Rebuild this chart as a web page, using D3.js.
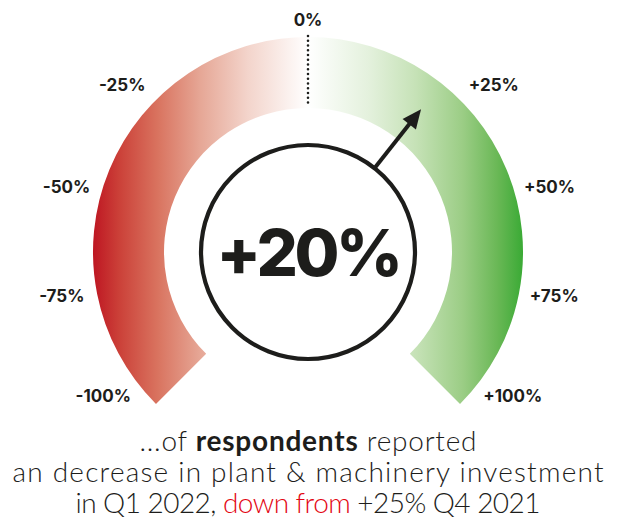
<!DOCTYPE html>
<html>
<head>
<meta charset="utf-8">
<script src="https://cdn.jsdelivr.net/npm/d3@7"></script>
<style>
  html, body { margin: 0; padding: 0; background: #fff; }
  svg { display: block; font-family: Inter, "Open Sans", sans-serif; }
</style>
</head>
<body>
<svg id="gauge" width="617" height="522"></svg>
<script>
// gauge ticks
var tickValues = [-100, -75, -50, -25, 0, 25, 50, 75, 100];
var tickLabels = ["-100%", "-75%", "-50%", "-25%", "0%", "+25%", "+50%", "+75%", "+100%"];

// current reading
var currentValue = 20;
var currentLabel = "+20%";

// caption, one array per line: [text, style]
var captionLine1 = [["...of ", "light"], ["respondents", "bold"], [" reported", "light"]];
var captionLine2 = [["an decrease in plant & machinery investment", "light"]];
var captionLine3 = [["in Q1 2022, ", "light"], ["down from", "red"], [" +25% Q4 2021", "light"]];

var svg = d3.select("#gauge");

var cx = 308, cy = 252;
var outerR = 215, innerR = 144, ringR = 107;
var span = 135; // degrees each side of 0

// value -> angle (deg, clockwise from top). the gauge is not evenly spaced
var angle = d3.scaleLinear()
    .domain(tickValues)
    .range([-125, -100, -75, -48, 0, 48, 75, 100, 125]);

var rad = function (d) { return d * Math.PI / 180; };

var defs = svg.append("defs");

var redGrad = defs.append("linearGradient")
    .attr("id", "redGrad")
    .attr("x1", "0").attr("x2", "1").attr("y1", "0").attr("y2", "0");
[[0, "#be1622"], [0.12, "#cb4038"], [0.3, "#d9735f"], [0.5, "#e6a796"], [0.72, "#f3d4cb"], [1, "#ffffff"]]
    .forEach(function (s) {
        redGrad.append("stop").attr("offset", s[0]).attr("stop-color", s[1]);
    });

var greenGrad = defs.append("linearGradient")
    .attr("id", "greenGrad")
    .attr("x1", "0").attr("x2", "1").attr("y1", "0").attr("y2", "0");
[[0, "#ffffff"], [0.28, "#e4f1dd"], [0.5, "#c6e2b7"], [0.72, "#9bcd85"], [0.88, "#6ab856"], [1, "#3aaa35"]]
    .forEach(function (s) {
        greenGrad.append("stop").attr("offset", s[0]).attr("stop-color", s[1]);
    });

var g = svg.append("g").attr("transform", "translate(" + cx + "," + cy + ")");

var arc = d3.arc().innerRadius(innerR).outerRadius(outerR);

g.append("path")
    .attr("d", arc({ startAngle: rad(-span), endAngle: 0 }))
    .attr("fill", "url(#redGrad)");

g.append("path")
    .attr("d", arc({ startAngle: 0, endAngle: rad(span) }))
    .attr("fill", "url(#greenGrad)");

// dotted zero line
g.append("line")
    .attr("x1", 0).attr("x2", 0)
    .attr("y1", -outerR - 1).attr("y2", -innerR - 1)
    .attr("stroke", "#1d1d1b")
    .attr("stroke-width", 2.6)
    .attr("stroke-linecap", "round")
    .attr("stroke-dasharray", "0 4.75");

// tick labels
g.selectAll("text.tick")
    .data(tickValues)
    .enter()
    .append("text")
    .attr("class", "tick")
    .attr("x", function (d) {
        var r = d === 0 ? 232 : 250;
        return r * Math.sin(rad(angle(d)));
    })
    .attr("y", function (d) {
        var r = d === 0 ? 232 : 250;
        return -r * Math.cos(rad(angle(d)));
    })
    .attr("dy", "0.36em")
    .attr("text-anchor", "middle")
    .attr("font-size", 17)
    .attr("font-weight", 700)
    .attr("fill", "#1d1d1b")
    .text(function (d, i) { return tickLabels[i]; });

// ring
g.append("circle")
    .attr("r", ringR)
    .attr("fill", "#fff")
    .attr("stroke", "#1d1d1b")
    .attr("stroke-width", 4.2);

// arrow
var arrow = g.append("g").attr("transform", "rotate(" + angle(currentValue) + ")");
arrow.append("line")
    .attr("x1", 0).attr("x2", 0)
    .attr("y1", -ringR).attr("y2", -168)
    .attr("stroke", "#1d1d1b")
    .attr("stroke-width", 4);
arrow.append("path")
    .attr("d", "M0," + (-182) + "L8.5," + (-163) + "L-8.5," + (-163) + "Z")
    .attr("fill", "#1d1d1b");

// big number
g.append("text")
    .attr("x", 0)
    .attr("y", 24)
    .attr("text-anchor", "middle")
    .attr("font-size", 65)
    .attr("font-weight", 800)
    .attr("letter-spacing", "-3.5")
    .attr("fill", "#1d1d1b")
    .text(currentLabel);

// caption
var styles = {
    light: { weight: 300, fill: "#1d1d1b" },
    bold: { weight: 700, fill: "#1d1d1b" },
    red: { weight: 300, fill: "#e30613" }
};
var lineWidths = [337, 591, 465];

[captionLine1, captionLine2, captionLine3].forEach(function (line, i) {
    var t = svg.append("text")
        .attr("x", cx)
        .attr("y", 451 + i * 31)
        .attr("text-anchor", "middle")
        .attr("font-family", "Lato, Inter, sans-serif")
        .attr("font-size", 28)
        .attr("textLength", lineWidths[i])
        .attr("lengthAdjust", "spacing")
        .attr("fill", "#1d1d1b");
    t.selectAll("tspan")
        .data(line)
        .enter()
        .append("tspan")
        .attr("font-weight", function (d) { return styles[d[1]].weight; })
        .attr("fill", function (d) { return styles[d[1]].fill; })
        .text(function (d) { return d[0]; });
});
</script>
</body>
</html>
